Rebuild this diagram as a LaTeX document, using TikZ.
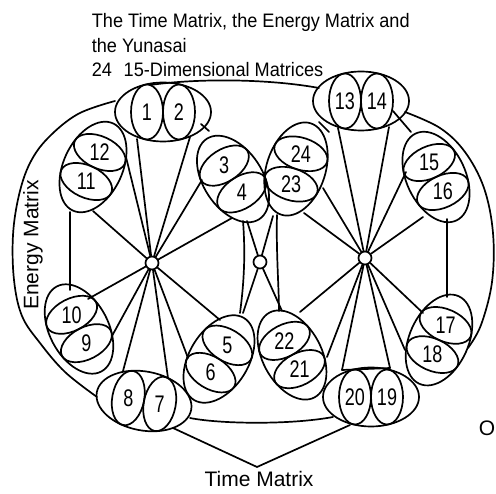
\documentclass[tikz,border=0pt]{standalone}
\usepackage{fontspec}
\setmainfont{Liberation Sans}
\newfontfamily\titlefont[FakeStretch=0.93]{Liberation Sans}
\newfontfamily\numfont[FakeStretch=0.75]{Liberation Sans}
\usetikzlibrary{shapes.geometric}
\newcommand\mpair[6]{%
  \node[outerell, rotate=#4] (#1) at (#2,#3) {};
  \begin{scope}[shift={(#2,#3)}, rotate=#4]
    \node[innerell, rotate=#4] (#1a) at (-16,0) {};
    \node[innerell, rotate=#4] (#1b) at (16,0) {};
    \node[num] (#1ta) at (-16,0) {#5};
    \node[num] (#1tb) at (16,0) {#6};
  \end{scope}}
\begin{document}
\begin{tikzpicture}[x=1pt,y=-1pt, line width=1.7pt, line join=round, line cap=round,
  outerell/.style={draw, ellipse, minimum width=96pt, minimum height=59pt, inner sep=0pt},
  innerell/.style={draw, ellipse, minimum width=32pt, minimum height=55pt, inner sep=0pt},
  hub/.style={draw, circle, fill=white, minimum size=13pt, inner sep=0pt},
  num/.style={font=\numfont\fontsize{24}{24}\selectfont, inner sep=0pt},
  big/.style={font=\fontsize{21}{24}\selectfont, inner sep=0pt},
  ttl/.style={font=\titlefont\fontsize{19.5}{24}\selectfont, inner sep=0pt, anchor=base west}]
\useasboundingbox (0,0) rectangle (496,494);
\clip (0,0) rectangle (496,494);
% titles
\node[ttl] (t1) at (91,28) {The Time Matrix, the Energy Matrix and};
\node[ttl] (t2) at (91,53) {the Yunasai};
\node[ttl] (t3) at (91,77) {24\hspace{0.6em}15-Dimensional Matrices};
\node[big, rotate=90] (em) at (33,245) {Energy Matrix};
\node[big, anchor=base] (tm) at (259,487) {Time Matrix};
\node[big, anchor=base west] (oo) at (478,436) {O};
% pairs
\mpair{p1}{163}{112}{0}{1}{2}
\mpair{p12}{93}{167}{-114.9}{12}{11}
\mpair{p3}{233}{179}{-56.8}{3}{4}
\mpair{p24}{296}{169}{-107.9}{24}{23}
\mpair{p13}{361}{101}{0}{13}{14}
\mpair{p15}{436}{177}{-64.9}{15}{16}
\mpair{p10}{79}{329}{-62.5}{10}{9}
\mpair{p8}{144}{401}{-10.6}{8}{7}
\mpair{p5}{219}{359}{-121.5}{5}{6}
\mpair{p22}{292}{355}{-62}{22}{21}
\mpair{p20}{371}{397}{0}{20}{19}
\mpair{p17}{439}{340}{-114.1}{17}{18}
% hubs
\node[hub] (hl) at (152,263) {};
\node[hub] (hr) at (365,258) {};
\node[hub] (hm) at (260,262) {};
% fan end points
\coordinate (L1a) at (137,139); \coordinate (L1b) at (190,137);
\coordinate (L12a) at (93,211); \coordinate (L12b) at (126,157);
\coordinate (L3a) at (202,180); \coordinate (L3b) at (232,218);
\coordinate (L10a) at (88,299); \coordinate (L10b) at (112,336);
\coordinate (L8a) at (123,371); \coordinate (L8b) at (168,378);
\coordinate (L5a) at (188,358); \coordinate (L5b) at (220,320);
\coordinate (R13a) at (338,128); \coordinate (R13b) at (389,127);
\coordinate (R24a) at (323,188); \coordinate (R24b) at (304,213);
\coordinate (R15a) at (406,172); \coordinate (R15b) at (423,217);
\coordinate (R17a) at (423,313); \coordinate (R17b) at (405,350);
\coordinate (R20a) at (342,370); \coordinate (R20b) at (390,368);
\coordinate (R22a) at (300,312); \coordinate (R22b) at (327,357);
\foreach \c in {L1a,L1b,L12a,L12b,L3a,L3b,L10a,L10b,L8a,L8b,L5a,L5b}
  \draw (hl) -- (\c);
\foreach \c in {R13a,R13b,R24a,R24b,R15a,R15b,R17a,R17b,R20a,R20b,R22a,R22b}
  \draw (hr) -- (\c);
\draw (R20a) -- (R20b);
% middle
\coordinate (v1a) at (243,221); \coordinate (v1b) at (240,313);
\coordinate (v2a) at (277,215); \coordinate (v2b) at (279,311);
\coordinate (x4) at (247,221); \coordinate (x22) at (282,311);
\coordinate (x23) at (273,216); \coordinate (x5) at (243,313);
\draw (v1a) .. controls (246,260) and (243,290) .. (v1b);
\draw (v2a) .. controls (276,250) and (279,290) .. (v2b);
\draw (x4) -- (hm) -- (x22);
\draw (x23) -- (hm) -- (x5);
% side verticals
\coordinate (s1a) at (70,212); \coordinate (s1b) at (70,290);
\coordinate (s2a) at (447,219); \coordinate (s2b) at (447,297);
\draw (s1a) -- (s1b);
\draw (s2a) -- (s2b);
% big arcs
\coordinate (aL1) at (115,101); \coordinate (aL2) at (97,397);
\draw plot[smooth, tension=0.6] coordinates {(aL1) (78,114) (48,138) (30,163) (19,195) (13,235) (14,280) (22,316) (40,343) (65,372) (aL2)};
\coordinate (aR1) at (405,112); \coordinate (aR2) at (468,348);
\draw plot[smooth, tension=0.6] coordinates {(aR1) (440,128) (465,152) (484,188) (493,233) (492,282) (481,325) (aR2)};
% top line
\coordinate (tA) at (150,85); \coordinate (tB) at (319,88);
\draw (tA) .. controls (200,78) and (270,79) .. (tB);
% bottom lines
\coordinate (bA) at (190,418); \coordinate (bB) at (333,417);
\draw (bA) .. controls (220,424) and (290,425) .. (bB);
\coordinate (kA) at (173,428); \coordinate (kP) at (257,467); \coordinate (kB) at (350,425);
\draw (kA) -- (kP) -- (kB);
% small connectors
\coordinate (c1a) at (393,111); \coordinate (c1b) at (411,132);
\coordinate (c2a) at (319,122); \coordinate (c2b) at (329,132);
\coordinate (c3a) at (201,124); \coordinate (c3b) at (209,131);
\draw (c1a) -- (c1b);
\draw (c2a) -- (c2b);
\draw (c3a) -- (c3b);
\end{tikzpicture}
\end{document}
